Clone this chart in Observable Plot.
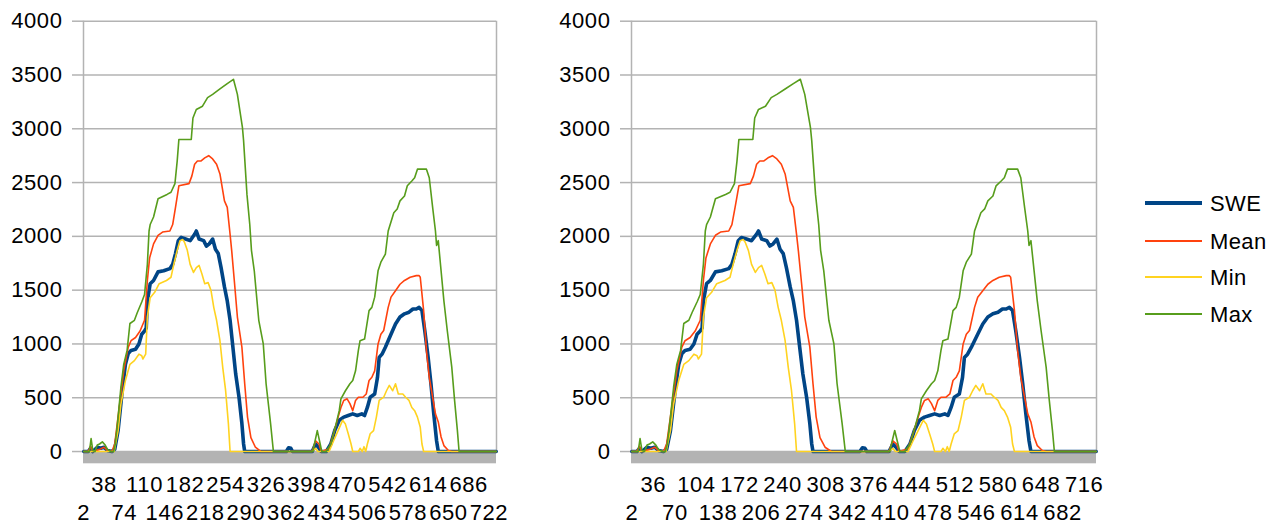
<!DOCTYPE html>
<html><head><meta charset="utf-8">
<script src="https://cdn.jsdelivr.net/npm/d3@7"></script>
<script src="https://cdn.jsdelivr.net/npm/@observablehq/plot@0.6"></script>
<style>
body{margin:0;background:#fff;font-family:"Liberation Sans",Arial,sans-serif;}
#wrap{position:relative;width:1279px;height:531px;overflow:hidden;background:#fff;}
.panel{position:absolute;top:0;}
</style></head><body><div id="wrap"></div>
<script>
// ---- data (day, value) ----
const sweDay = [2,10,14,18,26,32,38,44,52,57,63,71,76,81,86,94,100,105,110,113,115,120,126,134,144,155,160,165,170,175,183,191,199,202,207,215,220,225,231,236,241,246,252,257,262,267,272,278,283,286,288,362,366,370,373,408,414,419,424,433,441,448,456,464,472,480,488,496,501,506,511,519,524,527,532,538,543,548,556,564,572,580,587,593,598,603,608,614,619,624,629,632,735];
const sweVal = [0,0,30,0,40,30,40,10,0,20,195,600,810,910,940,950,1000,1090,1120,1150,1400,1560,1590,1670,1680,1700,1740,1840,1960,1990,1975,1960,2020,2050,1975,1960,1910,1930,1975,1880,1840,1710,1530,1400,1220,970,720,500,260,70,0,0,35,30,0,0,70,40,0,0,70,195,290,320,335,350,335,350,335,410,505,535,690,875,905,970,1030,1090,1185,1250,1280,1295,1325,1325,1340,1310,1125,875,630,350,100,0,0];

const meanDay = [2,10,14,18,30,38,44,52,57,65,73,81,86,94,102,110,115,119,126,134,142,155,160,165,171,189,194,199,204,210,217,224,231,238,244,252,257,262,265,270,275,283,288,293,299,307,317,408,414,420,424,438,446,454,459,464,470,475,480,485,490,498,504,509,514,519,525,530,535,543,548,556,564,572,582,593,598,600,603,606,611,616,622,627,632,637,642,650,656,735];
const meanVal = [0,0,50,0,20,40,10,0,70,410,750,970,1030,1060,1120,1220,1590,1800,1930,2010,2040,2050,2110,2270,2470,2490,2560,2670,2700,2700,2730,2750,2720,2670,2580,2330,2270,2020,1860,1560,1250,970,630,320,130,40,0,0,100,70,0,25,165,320,410,475,490,445,380,475,505,505,535,660,690,750,1000,1090,1125,1340,1435,1495,1555,1590,1620,1635,1635,1620,1465,1310,940,690,505,350,275,135,55,10,0,0];

const minDay = [2,56,63,68,76,84,92,100,105,107,112,115,120,128,136,149,157,162,168,173,178,181,186,191,197,202,207,212,217,223,228,233,238,244,249,254,259,262,408,414,418,438,446,454,462,467,472,477,480,490,493,497,500,503,506,511,517,522,527,535,540,545,551,556,561,569,574,580,585,590,595,600,603,606,735];
const minVal = [0,0,195,440,660,810,845,905,890,860,905,1250,1430,1480,1560,1590,1620,1740,1870,1960,1970,1945,1870,1740,1665,1710,1730,1650,1560,1570,1500,1340,1220,1030,780,570,260,0,0,30,0,0,100,195,290,255,165,70,0,0,30,0,45,0,70,165,195,320,475,505,565,615,565,630,535,535,505,475,410,380,320,225,70,0,0];

const maxDay = [2,12,15,18,22,26,30,35,40,44,50,55,58,63,68,73,79,84,92,97,105,110,115,118,120,126,134,150,157,164,168,171,193,196,202,213,222,231,244,257,268,275,284,286,292,297,300,305,313,321,326,334,339,409,417,425,433,441,449,456,459,467,475,480,485,490,493,501,509,514,519,525,530,538,543,553,559,564,572,577,585,590,595,611,616,622,627,629,632,637,642,648,656,661,666,669,735];
const maxVal = [0,0,120,10,0,60,70,90,60,20,0,0,70,320,600,810,940,1190,1220,1290,1390,1460,1740,2050,2110,2180,2350,2390,2410,2490,2700,2900,2900,3100,3180,3210,3290,3320,3370,3420,3460,3320,3010,2890,2390,2110,1870,1680,1220,1000,630,260,0,0,195,0,0,70,225,380,490,565,630,660,750,940,1030,1045,1310,1340,1435,1680,1760,1835,2050,2220,2255,2330,2375,2470,2515,2545,2625,2625,2545,2270,2050,1915,1960,1680,1400,1125,785,475,195,0,0];

const seriesNames = ["SWE","Mean","Min","Max"];
const seriesColors = ["#004586","#ff420e","#ffd320","#579d1c"];
const yTicks = [0,500,1000,1500,2000,2500,3000,3500,4000];
const leftTicks = [2,38,74,110,146,182,218,254,290,326,362,398,434,470,506,542,578,614,650,686,722];
const rightTicks = [2,36,70,104,138,172,206,240,274,308,342,376,410,444,478,512,546,580,614,648,682,716];

// ---- build table ----
const seriesData = [[sweDay,sweVal],[meanDay,meanVal],[minDay,minVal],[maxDay,maxVal]];
const rows = [];
seriesData.forEach(([ds,vs],i)=>ds.forEach((d,j)=>rows.push({series:seriesNames[i],day:d,value:vs[j]})));

const GRID = "#b3b3b3";
const FONT = "'Liberation Sans', Arial, sans-serif";
const xDomain = [1.5, 735.5];
const floorDepth = 114;

function panel(ticks, width, plotW, left){
  const row1 = ticks.filter((t,i)=>i%2===1);
  const row2 = ticks.filter((t,i)=>i%2===0);
  const marks = [
    Plot.rect([0], {x1: xDomain[0], x2: xDomain[1], y1: -floorDepth, y2: 0, fill: GRID}),
    Plot.ruleY(yTicks, {stroke: GRID, strokeWidth: 1.5}),
    Plot.ruleX(xDomain, {y1: 0, y2: 4000, stroke: GRID, strokeWidth: 1.5}),
    Plot.axisY({ticks: yTicks, tickSize: 11, tickPadding: 10, stroke: GRID, strokeWidth: 1.5, fill: "#000", label: null, tickFormat: d => String(d), fontSize: 22}),
    Plot.axisX({ticks: row1, tickSize: 0, tickPadding: 13, label: null, tickFormat: d => String(d), fontSize: 22, fill: "#000"}),
    Plot.axisX({ticks: row2, tickSize: 0, tickPadding: 41, label: null, tickFormat: d => String(d), fontSize: 22, fill: "#000"})
  ];
  seriesNames.forEach((s,i)=>{
    marks.push(Plot.line(rows.filter(r=>r.series===s), {x:"day", y:"value", stroke: seriesColors[i], strokeWidth: i===0 ? 3.6 : 1.6, strokeLinejoin:"round"}));
  });
  const svg = Plot.plot({
    width, height: 531,
    marginLeft: 83, marginRight: width - 83 - plotW, marginTop: 20.7, marginBottom: 67.7,
    x: {domain: xDomain},
    y: {domain: [-floorDepth, 4000]},
    style: {fontFamily: FONT, fontSize: "22px", color: "#000", background: "transparent", letterSpacing: "0.6px"},
    marks
  });
  svg.classList.add("panel");
  svg.style.left = left + "px";
  document.getElementById("wrap").appendChild(svg);
}
panel(leftTicks, 520, 413, 0);
panel(rightTicks, 560, 465, 548);

// ---- legend ----
const leg = d3.select("#wrap").append("svg")
  .attr("width", 139).attr("height", 160)
  .style("position","absolute").style("left","1140px").style("top","180px");
const legY = [23, 61, 97, 134];
seriesNames.forEach((s,i)=>{
  leg.append("line").attr("x1",5).attr("x2",62).attr("y1",legY[i]).attr("y2",legY[i])
    .attr("stroke",seriesColors[i]).attr("stroke-width", i===0?4:2);
  leg.append("text").attr("x",70).attr("y",legY[i]).attr("dy","0.36em")
    .attr("font-family",FONT).attr("font-size",22).attr("letter-spacing","0.4px").attr("fill","#000").text(s);
});
</script></body></html>
